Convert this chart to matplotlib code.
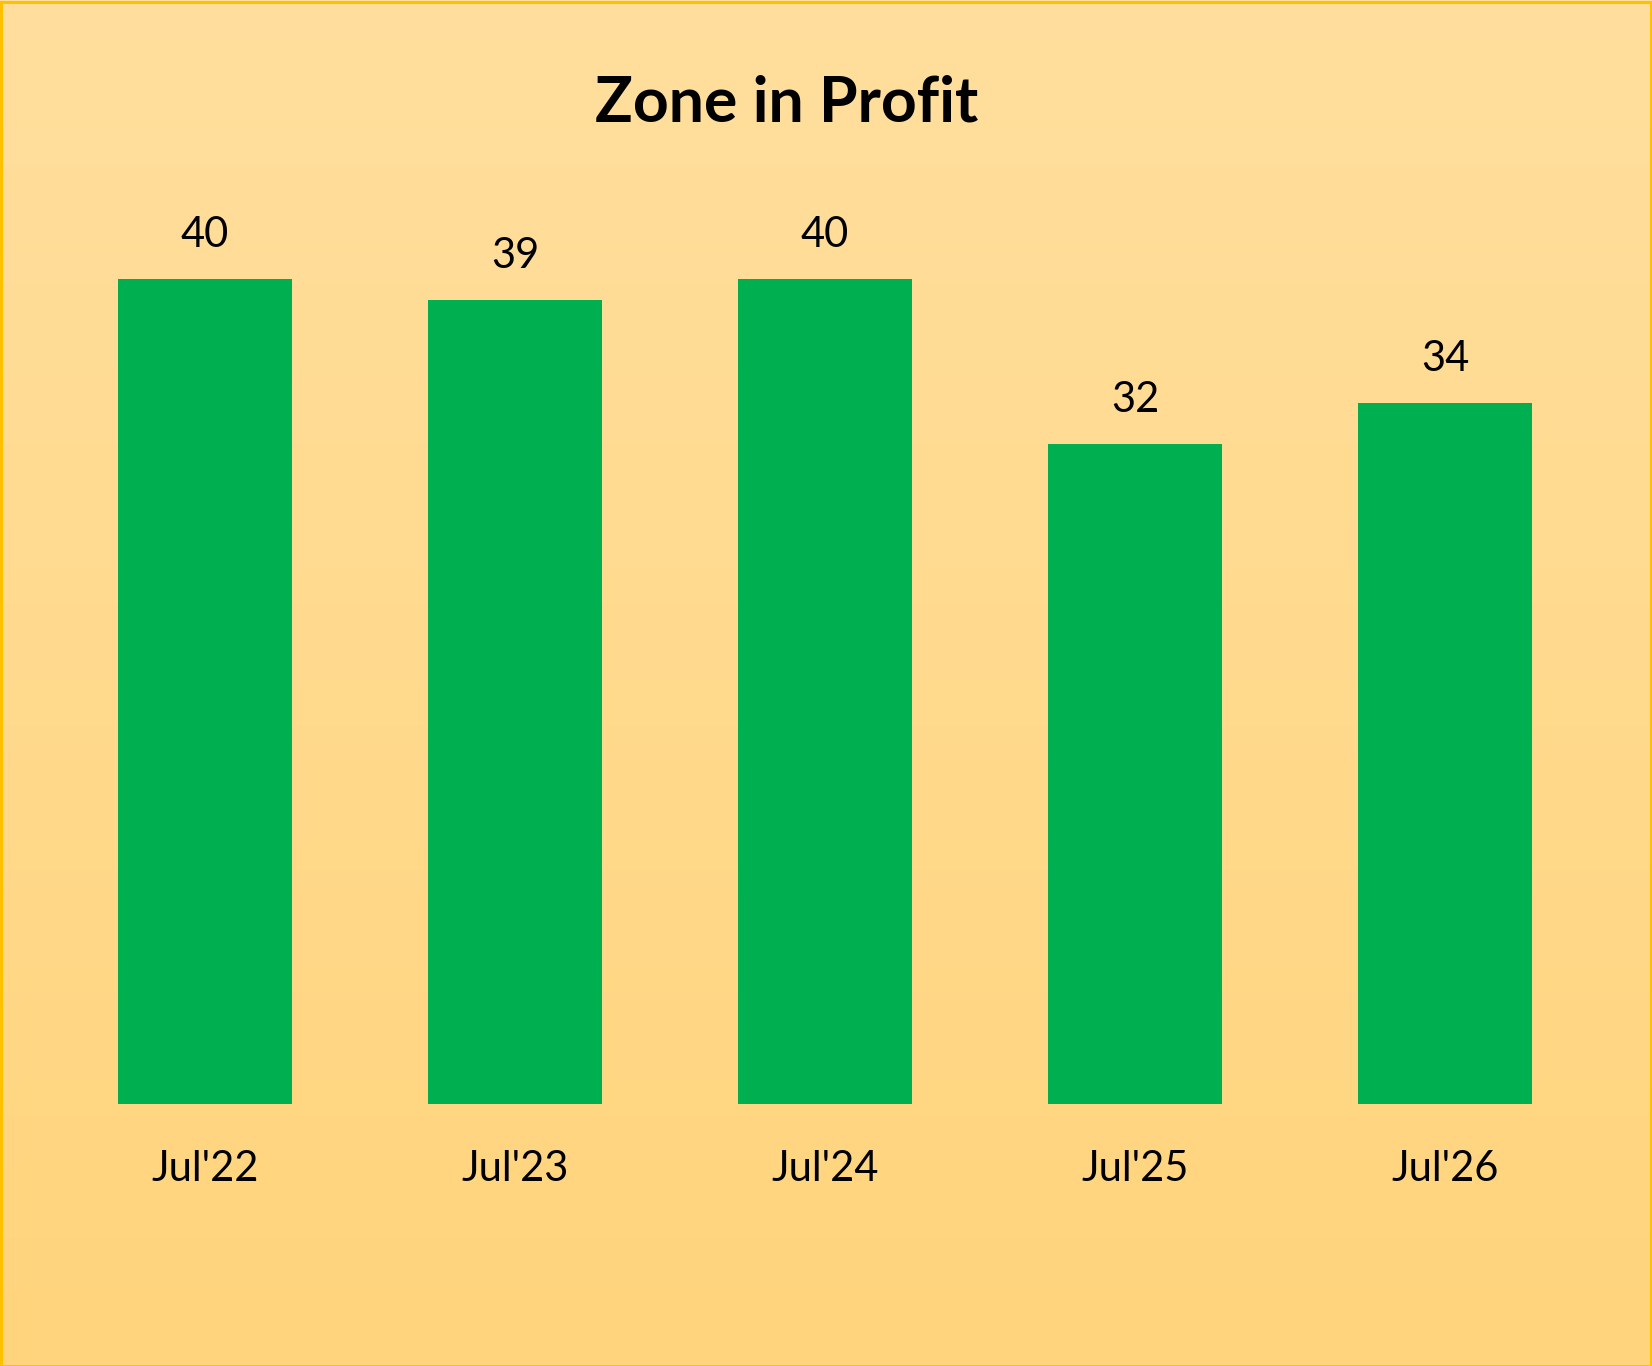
import numpy as np
import matplotlib
matplotlib.use('Agg')
import matplotlib.pyplot as plt
from matplotlib.patches import Rectangle

# data
months = ["Jul'22", "Jul'23", "Jul'24", "Jul'25", "Jul'26"]
zones = [40, 39, 40, 32, 34]

plt.rcParams['font.family'] = ['Lato', 'DejaVu Sans']

W, H = 1652, 1366
fig = plt.figure(figsize=(W / 100, H / 100), dpi=100)

# gradient background
bg = fig.add_axes([0, 0, 1, 1], zorder=0)
grad = np.linspace(0, 1, 256).reshape(-1, 1)
top = np.array([255, 223, 158]) / 255
bot = np.array([255, 212, 124]) / 255
img = top + (bot - top) * grad[:, :, None]
bg.imshow(img, aspect='auto', extent=[0, 1, 0, 1])
bg.axis('off')

# border
fig.patches.append(Rectangle((0.5 / W, 0.5 / H), 1 - 2 / W, 1 - 2 / H,
                             transform=fig.transFigure, fill=False,
                             edgecolor='#FFC000', linewidth=2.2, zorder=10))

# plot area: x from 50 to 1600 px, y bottom at 1104 px, 20.625 px per unit
ymax = 45
ax = fig.add_axes([50 / W, (H - 1104) / H, 1550 / W, ymax * 20.625 / H], zorder=1)
ax.patch.set_alpha(0)

x = np.arange(len(months))
bars = ax.bar(x, zones, width=0.56, color='#00B050')
for xi, v in zip(x, zones):
    ax.annotate(str(v), (xi, v), xytext=(0, 32), textcoords='offset pixels',
                ha='center', va='baseline', fontsize=30)

ax.set_xlim(-0.5, 4.5)
ax.set_ylim(0, ymax)
ax.set_xticks(x)
ax.set_xticklabels(months, fontsize=30)
ax.tick_params(axis='x', length=0, pad=33)
ax.set_yticks([])
for s in ax.spines.values():
    s.set_visible(False)

fig.text(787 / W, 1 - 121 / H, 'Zone in Profit', ha='center', va='baseline',
         fontsize=45, fontweight='bold')

fig.savefig('out.png', dpi=100)
